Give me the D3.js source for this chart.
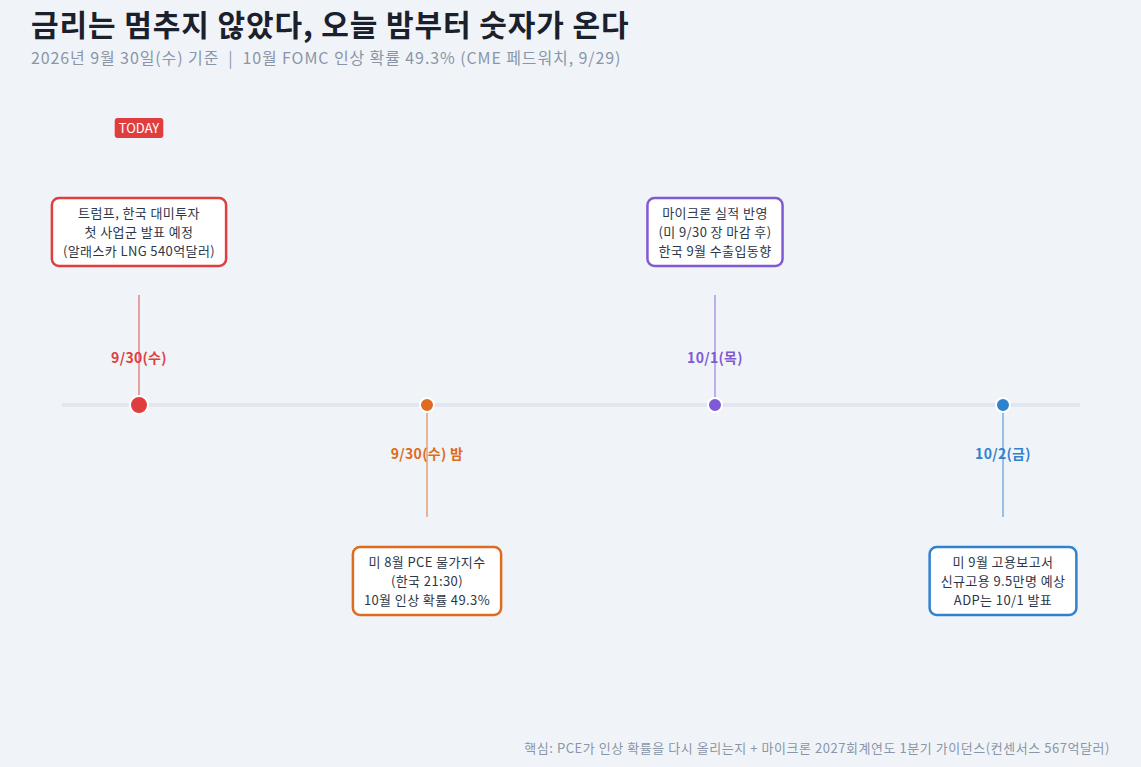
<!DOCTYPE html>
<html><head><meta charset="utf-8">
<script src="https://cdn.jsdelivr.net/npm/d3@7"></script>
<style>
body{margin:0;background:#f0f4f8;font-family:"Noto Sans CJK KR","Noto Sans",sans-serif;}
text{white-space:pre;}
</style></head><body>
<svg id="chart" width="1141" height="767"></svg>
<script>
// ═══ DATA ═══
const dates = ['9/30(수)', '9/30(수) 밤', '10/1(목)', '10/2(금)'];
const eventLines = [
  ['트럼프, 한국 대미투자', '첫 사업군 발표 예정', '(알래스카 LNG 540억달러)'],
  ['미 8월 PCE 물가지수', '(한국 21:30)', '10월 인상 확률 49.3%'],
  ['마이크론 실적 반영', '(미 9/30 장 마감 후)', '한국 9월 수출입동향'],
  ['미 9월 고용보고서', '신규고용 9.5만명 예상', 'ADP는 10/1 발표']
];
const colors = ['#e03e3e', '#dd6b20', '#805ad5', '#3182ce'];
const sides = ['up', 'down', 'up', 'down'];

const svg = d3.select('#chart');
const font = '"Noto Sans CJK KR","Noto Sans",sans-serif';

svg.append('text').attr('x', 31).attr('y', 36).attr('font-size', 30).attr('font-weight', 700)
  .attr('letter-spacing', 0.9)
  .attr('fill', '#1a202c').attr('font-family', font).text('금리는 멈추지 않았다, 오늘 밤부터 숫자가 온다');
svg.append('text').attr('x', 31).attr('y', 64).attr('font-size', 16).attr('fill', '#8a96a8')
  .attr('letter-spacing', 0.9)
  .attr('font-family', font).text('2026년 9월 30일(수) 기준  |  10월 FOMC 인상 확률 49.3% (CME 페드워치, 9/29)');
svg.append('text').attr('x', 1110).attr('y', 753).attr('text-anchor', 'end').attr('font-size', 13)
  .attr('fill', '#8a96a8').attr('font-family', font).attr('letter-spacing', 0.55)
  .text('핵심: PCE가 인상 확률을 다시 올리는지 + 마이크론 2027회계연도 1분기 가이던스(컨센서스 567억달러)');

const x = d3.scalePoint().domain(d3.range(dates.length)).range([139, 1003]);
const yLine = 405;

svg.append('line').attr('x1', 62).attr('x2', 1080).attr('y1', yLine).attr('y2', yLine)
  .attr('stroke', '#e2e6f0').attr('stroke-width', 4);

const g = svg.selectAll('g.ev').data(dates).join('g').attr('class', 'ev');

g.append('line')
  .attr('x1', (d, i) => x(i)).attr('x2', (d, i) => x(i))
  .attr('y1', (d, i) => sides[i] === 'up' ? 295 : yLine)
  .attr('y2', (d, i) => sides[i] === 'up' ? yLine : 517)
  .attr('stroke', (d, i) => colors[i]).attr('stroke-width', 1.5).attr('opacity', 0.6);

g.append('circle').attr('cx', (d, i) => x(i)).attr('cy', yLine)
  .attr('r', (d, i) => i === 0 ? 9 : 7)
  .attr('fill', (d, i) => colors[i]).attr('stroke', '#fff').attr('stroke-width', 2);

g.append('text').attr('x', (d, i) => x(i))
  .attr('y', (d, i) => sides[i] === 'up' ? 363 : 459)
  .attr('text-anchor', 'middle').attr('font-size', 14).attr('font-weight', 700)
  .attr('letter-spacing', 0.3)
  .attr('font-family', font).attr('fill', (d, i) => colors[i]).text(d => d);

// 박스
g.each(function(d, i) {
  const cx = x(i);
  const cy = sides[i] === 'up' ? 232 : 581;
  const box = d3.select(this).append('g');
  const rect = box.append('rect');
  const txt = box.append('text').attr('text-anchor', 'middle').attr('font-size', 13)
    .attr('letter-spacing', 0.4)
    .attr('font-family', font).attr('fill', '#2d3748');
  eventLines[i].forEach((l, k) => {
    txt.append('tspan').attr('x', cx).attr('y', cy + (k - 1) * 19 + 5).text(l);
  });
  const w = txt.node().getBBox().width + 22;
  const h = 68;
  rect.attr('x', cx - w / 2).attr('y', cy - h / 2).attr('width', w).attr('height', h)
    .attr('rx', 7).attr('fill', '#fff').attr('stroke', colors[i]).attr('stroke-width', 2.5);
});

// TODAY badge
const tb = svg.append('g');
const tt = tb.append('text').attr('x', x(0)).attr('y', 133).attr('text-anchor', 'middle')
  .attr('font-size', 13).attr('fill', '#fff').attr('font-family', font).text('TODAY');
const bw = tt.node().getBBox().width + 8;
tb.insert('rect', 'text').attr('x', x(0) - bw / 2).attr('y', 118).attr('width', bw).attr('height', 20)
  .attr('rx', 3).attr('fill', '#e03e3e');
</script>
</body></html>
